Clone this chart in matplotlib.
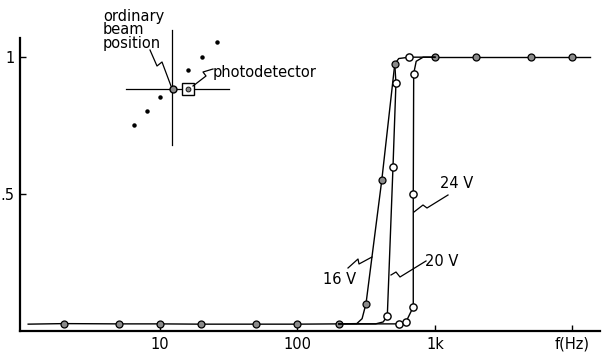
import matplotlib.pyplot as plt
from matplotlib.transforms import Affine2D

# frequencies (Hz) and normalised detector signal
base_f = [1.1, 2, 5, 10, 20, 50, 100, 200]
base_v = [0.025, 0.027, 0.026, 0.026, 0.025, 0.025, 0.025, 0.026]

# traces (line path) and their measured points
f16 = [200, 270, 295, 315, 410, 510, 545, 650, 1000]
v16 = [0.026, 0.027, 0.045, 0.10, 0.55, 0.975, 0.995, 1.0, 1.0]
pts16_f = [315, 410, 510]
pts16_v = [0.10, 0.55, 0.975]
extra_f = [650]
extra_v = [1.0]

f20 = [200, 370, 420, 450, 495, 520, 510]
v20 = [0.026, 0.026, 0.033, 0.055, 0.60, 0.905, 0.975]
pts20_f = [450, 495, 520]
pts20_v = [0.055, 0.60, 0.905]

f24 = [200, 547, 615, 695, 695, 700, 730, 820, 1000]
v24 = [0.026, 0.026, 0.033, 0.088, 0.50, 0.94, 0.985, 1.0, 1.0]
pts24_f = [547, 615, 695, 695, 700]
pts24_v = [0.026, 0.033, 0.088, 0.50, 0.94]

top_f = [1000, 2000, 5000, 10000, 13500]
top_v = [1.0, 1.0, 1.0, 1.0, 1.0]

xticks = [10, 100, 1000]
xtick_labels = ['10', '100', '1k']
yticks = [0.5, 1.0]
ytick_labels = ['.5', '1']

W, H = 604, 353
fig = plt.figure(figsize=(W / 100, H / 100), dpi=100)
ax = fig.add_axes([20 / W, (H - 331) / H, 580 / W, 293 / H])
pix = Affine2D().scale(1 / W, -1 / H).translate(0, 1) + fig.transFigure

gray = dict(marker='o', ms=5, mfc='#8a8a8a', mec='black', mew=0.9)
open_ = dict(marker='o', ms=5.2, mfc='white', mec='black', mew=1.0)
lw = 1.0

ax.plot(base_f, base_v, color='black', lw=lw, markevery=list(range(1, len(base_f))), **gray)
ax.plot(top_f, top_v, color='black', lw=lw, markevery=list(range(0, len(top_f) - 1)), **gray)
ax.plot(f16, v16, color='black', lw=lw, zorder=3)
ax.plot(pts16_f, pts16_v, ls='none', zorder=4, **gray)
ax.plot(extra_f, extra_v, ls='none', zorder=4, **open_)
ax.plot(f20, v20, color='black', lw=lw, zorder=3)
ax.plot(pts20_f, pts20_v, ls='none', zorder=4, **open_)
ax.plot(f24, v24, color='black', lw=lw, zorder=3)
ax.plot(pts24_f, pts24_v, ls='none', zorder=4, **open_)

ax.set_xscale('log')
ax.set_xlim(10 ** -0.018, 10 ** 4.2)
ax.set_ylim(0, 1.07)
ax.set_xticks(xticks + [10000])
ax.set_xticklabels(xtick_labels + ['f(Hz)'])
ax.minorticks_off()
ax.set_yticks(yticks)
ax.set_yticklabels(ytick_labels)
ax.tick_params(direction='in', length=4, width=1, labelsize=10.5, pad=4)
for s in ['top', 'right']:
    ax.spines[s].set_visible(False)
for s in ['left', 'bottom']:
    ax.spines[s].set_linewidth(1.6)

# curve labels with zig-zag pointers (pixel coordinates)
def zigzag(pts):
    xs, ys = zip(*pts)
    fig.add_artist(plt.Line2D(xs, ys, color='black', lw=0.9, transform=pix))

ax.text(340, 280, '16 V', transform=pix, fontsize=10.5, ha='center', va='center')
zigzag([(348, 268), (358, 259), (359, 264), (372, 257)])
ax.text(442, 262, '20 V', transform=pix, fontsize=10.5, ha='center', va='center')
zigzag([(426, 261), (400, 277), (396, 272), (391, 275)])
ax.text(457, 183, '24 V', transform=pix, fontsize=10.5, ha='center', va='center')
zigzag([(448, 195), (427, 208), (423, 205), (414, 212)])

# inset sketch of the beam positions
fig.add_artist(plt.Line2D([172, 172], [30, 145], color='black', lw=0.9, transform=pix))
fig.add_artist(plt.Line2D([126, 229], [89, 89], color='black', lw=0.9, transform=pix))
for x, y in [(134, 125), (147, 111), (160, 97), (188, 70), (202, 57), (217, 42)]:
    fig.add_artist(plt.Line2D([x], [y], marker='o', ms=2.2, color='black', transform=pix))
fig.add_artist(plt.Line2D([173], [89], marker='o', ms=5, mfc='#8a8a8a', mec='black', transform=pix))
fig.add_artist(plt.Line2D([188], [89], marker='s', ms=8, mfc='white', mec='black', mew=1, transform=pix))
fig.add_artist(plt.Line2D([188], [89], marker='o', ms=3.5, mfc='#8a8a8a', mec='black', mew=0.6, transform=pix))
ax.text(103, 30, 'ordinary\nbeam\nposition', transform=pix, fontsize=10.5, ha='left', va='center',
        linespacing=0.85)
zigzag([(150, 50), (157, 66), (162, 62), (171, 86)])
ax.text(213, 72, 'photodetector', transform=pix, fontsize=10.5, ha='left', va='center')
zigzag([(213, 69), (203, 72), (206, 76), (193, 86)])

fig.savefig('out.png', dpi=100)
